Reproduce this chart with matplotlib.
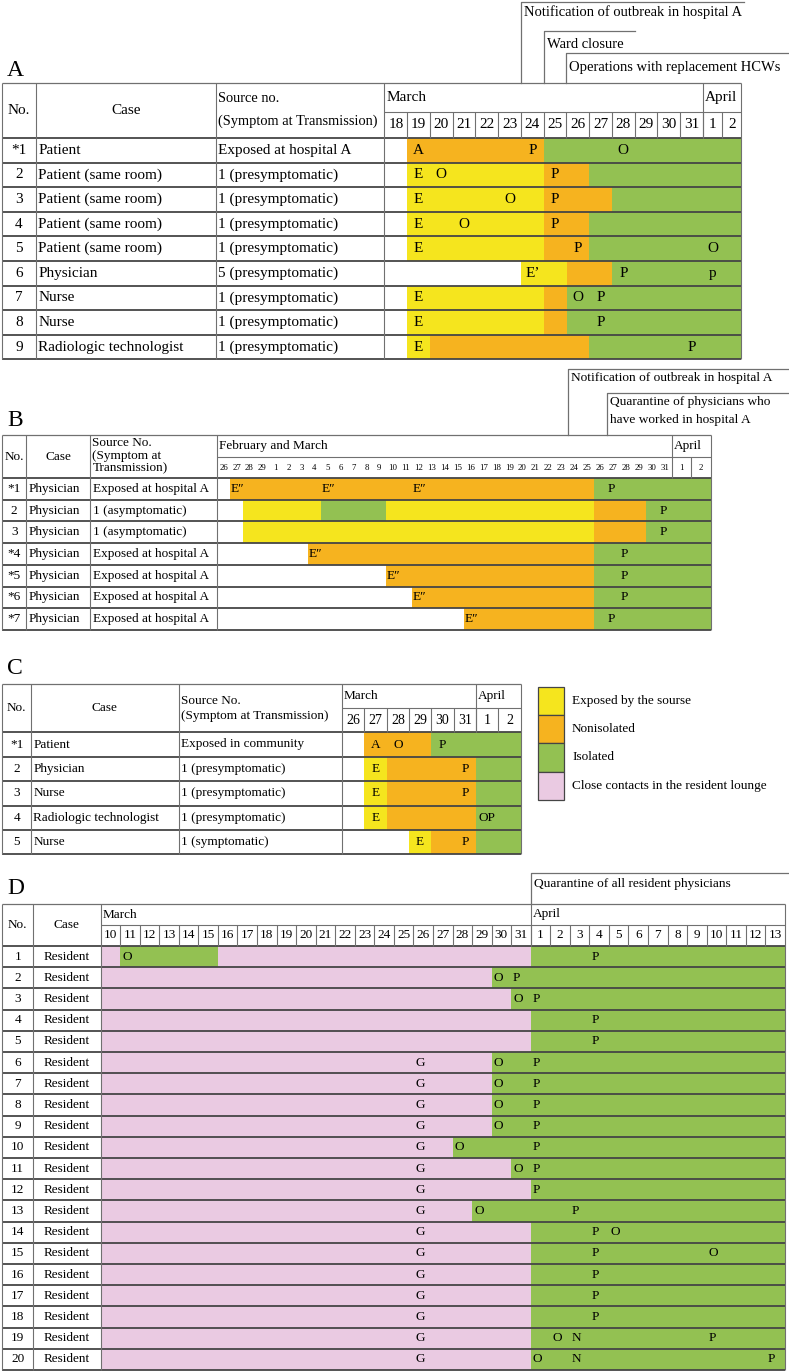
import numpy as np
import matplotlib.pyplot as plt

plt.rcParams['font.family'] = ['Liberation Serif', 'DejaVu Serif']

W, H = 789, 1372
COLORS = {'E': '#f5e51e', 'N': '#f6b31f', 'I': '#93c152', 'C': '#eacae2'}
DARK = '#454545'
THIN = '#707070'

# ---------------- panel A ----------------
a_days = ['18', '19', '20', '21', '22', '23', '24', '25', '26', '27', '28', '29', '30', '31', '1', '2']
a_no = ['*1', '2', '3', '4', '5', '6', '7', '8', '9']
a_case = ['Patient', 'Patient (same room)', 'Patient (same room)', 'Patient (same room)',
          'Patient (same room)', 'Physician', 'Nurse', 'Nurse', 'Radiologic technologist']
a_source = ['Exposed at hospital A', '1 (presymptomatic)', '1 (presymptomatic)', '1 (presymptomatic)',
            '1 (presymptomatic)', '5 (presymptomatic)', '1 (presymptomatic)', '1 (presymptomatic)',
            '1 (presymptomatic)']
# (first day index, end day index, state)  E=exposed N=nonisolated I=isolated C=lounge contact
a_bars = [
    [(1, 7, 'N'), (7, 16, 'I')],
    [(1, 7, 'E'), (7, 9, 'N'), (9, 16, 'I')],
    [(1, 7, 'E'), (7, 10, 'N'), (10, 16, 'I')],
    [(1, 7, 'E'), (7, 9, 'N'), (9, 16, 'I')],
    [(1, 7, 'E'), (7, 9, 'N'), (9, 16, 'I')],
    [(6, 8, 'E'), (8, 10, 'N'), (10, 16, 'I')],
    [(1, 7, 'E'), (7, 8, 'N'), (8, 16, 'I')],
    [(1, 7, 'E'), (7, 8, 'N'), (8, 16, 'I')],
    [(1, 2, 'E'), (2, 9, 'N'), (9, 16, 'I')],
]
a_marks = [
    [(1, 'A'), (6, 'P'), (10, 'O')],
    [(1, 'E'), (2, 'O'), (7, 'P')],
    [(1, 'E'), (5, 'O'), (7, 'P')],
    [(1, 'E'), (3, 'O'), (7, 'P')],
    [(1, 'E'), (8, 'P'), (14, 'O')],
    [(6, 'E\u2019'), (10, 'P'), (14, 'p')],
    [(1, 'E'), (8, 'O'), (9, 'P')],
    [(1, 'E'), (9, 'P')],
    [(1, 'E'), (13, 'P')],
]

# ---------------- panel B ----------------
b_days = ['26', '27', '28', '29'] + [str(d) for d in range(1, 32)] + ['1', '2']
b_no = ['*1', '2', '3', '*4', '*5', '*6', '*7']
b_case = ['Physician'] * 7
b_source = ['Exposed at hospital A', '1 (asymptomatic)', '1 (asymptomatic)', 'Exposed at hospital A',
            'Exposed at hospital A', 'Exposed at hospital A', 'Exposed at hospital A']
b_bars = [
    [(1, 29, 'N'), (29, 37, 'I')],
    [(2, 8, 'E'), (8, 13, 'I'), (13, 29, 'E'), (29, 33, 'N'), (33, 37, 'I')],
    [(2, 29, 'E'), (29, 33, 'N'), (33, 37, 'I')],
    [(7, 29, 'N'), (29, 37, 'I')],
    [(13, 29, 'N'), (29, 37, 'I')],
    [(15, 29, 'N'), (29, 37, 'I')],
    [(19, 29, 'N'), (29, 37, 'I')],
]
EE = 'E\u2033'
b_marks = [
    [(1, EE), (8, EE), (15, EE), (30, 'P')],
    [(34, 'P')],
    [(34, 'P')],
    [(7, EE), (31, 'P')],
    [(13, EE), (31, 'P')],
    [(15, EE), (31, 'P')],
    [(19, EE), (30, 'P')],
]

# ---------------- panel C ----------------
c_days = ['26', '27', '28', '29', '30', '31', '1', '2']
c_no = ['*1', '2', '3', '4', '5']
c_case = ['Patient', 'Physician', 'Nurse', 'Radiologic technologist', 'Nurse']
c_source = ['Exposed in community', '1 (presymptomatic)', '1 (presymptomatic)',
            '1 (presymptomatic)', '1 (symptomatic)']
c_bars = [
    [(1, 4, 'N'), (4, 8, 'I')],
    [(1, 2, 'E'), (2, 6, 'N'), (6, 8, 'I')],
    [(1, 2, 'E'), (2, 6, 'N'), (6, 8, 'I')],
    [(1, 2, 'E'), (2, 6, 'N'), (6, 8, 'I')],
    [(3, 4, 'E'), (4, 6, 'N'), (6, 8, 'I')],
]
c_marks = [
    [(1, 'A'), (2, 'O'), (4, 'P')],
    [(1, 'E'), (5, 'P')],
    [(1, 'E'), (5, 'P')],
    [(1, 'E'), (6, 'OP')],
    [(3, 'E'), (5, 'P')],
]
legend_labels = ['Exposed by the sourse', 'Nonisolated', 'Isolated', 'Close contacts in the resident lounge']
legend_keys = ['E', 'N', 'I', 'C']

# ---------------- panel D ----------------
d_days = [str(d) for d in range(10, 32)] + [str(d) for d in range(1, 14)]
d_no = [str(i) for i in range(1, 21)]
d_case = ['Resident'] * 20
d_bars = [
    [(0, 1, 'C'), (1, 6, 'I'), (6, 22, 'C'), (22, 35, 'I')],
    [(0, 20, 'C'), (20, 35, 'I')],
    [(0, 21, 'C'), (21, 35, 'I')],
    [(0, 22, 'C'), (22, 35, 'I')],
    [(0, 22, 'C'), (22, 35, 'I')],
    [(0, 20, 'C'), (20, 35, 'I')],
    [(0, 20, 'C'), (20, 35, 'I')],
    [(0, 20, 'C'), (20, 35, 'I')],
    [(0, 20, 'C'), (20, 35, 'I')],
    [(0, 18, 'C'), (18, 35, 'I')],
    [(0, 21, 'C'), (21, 35, 'I')],
    [(0, 22, 'C'), (22, 35, 'I')],
    [(0, 19, 'C'), (19, 35, 'I')],
    [(0, 22, 'C'), (22, 35, 'I')],
    [(0, 22, 'C'), (22, 35, 'I')],
    [(0, 22, 'C'), (22, 35, 'I')],
    [(0, 22, 'C'), (22, 35, 'I')],
    [(0, 22, 'C'), (22, 35, 'I')],
    [(0, 22, 'C'), (22, 35, 'I')],
    [(0, 22, 'C'), (22, 35, 'I')],
]
d_marks = [
    [(1, 'O'), (25, 'P')],
    [(20, 'O'), (21, 'P')],
    [(21, 'O'), (22, 'P')],
    [(25, 'P')],
    [(25, 'P')],
    [(16, 'G'), (20, 'O'), (22, 'P')],
    [(16, 'G'), (20, 'O'), (22, 'P')],
    [(16, 'G'), (20, 'O'), (22, 'P')],
    [(16, 'G'), (20, 'O'), (22, 'P')],
    [(16, 'G'), (18, 'O'), (22, 'P')],
    [(16, 'G'), (21, 'O'), (22, 'P')],
    [(16, 'G'), (22, 'P')],
    [(16, 'G'), (19, 'O'), (24, 'P')],
    [(16, 'G'), (25, 'P'), (26, 'O')],
    [(16, 'G'), (25, 'P'), (31, 'O')],
    [(16, 'G'), (25, 'P')],
    [(16, 'G'), (25, 'P')],
    [(16, 'G'), (25, 'P')],
    [(16, 'G'), (23, 'O'), (24, 'N'), (31, 'P')],
    [(16, 'G'), (22, 'O'), (24, 'N'), (34, 'P')],
]

fig = plt.figure(figsize=(W / 100, H / 100), dpi=100)
fig.patch.set_facecolor('white')
cv = fig.add_axes([0, 0, 1, 1])
cv.set_xlim(0, W)
cv.set_ylim(H, 0)
cv.axis('off')
cv.set_zorder(5)


def hline(x0, x1, y, color=DARK, lw=1.3):
    cv.plot([x0, x1], [y, y], color=color, lw=lw, solid_capstyle='butt')


def vline(x, y0, y1, color=THIN, lw=0.8):
    cv.plot([x, x], [y0, y1], color=color, lw=lw, solid_capstyle='butt')


def draw_panel(p):
    cols, widths = p['cols'], p['widths']
    top, h1, h2, rowh = p['top'], p['h1'], p['h2'], p['rowh']
    fs, dfs = p['fs'], p['day_fs']
    bars, marks = p['bars'], p['marks']
    nrows, ncols = len(bars), len(widths)
    x0 = cols[-1]
    edges = np.concatenate([[0.0], np.cumsum(widths)])
    idx = np.arange(ncols + 1, dtype=float)

    def fwd(v):
        return np.interp(v, idx, edges)

    def inv(v):
        return np.interp(v, edges, idx)

    def cx(i):
        return x0 + fwd(i)

    x1 = x0 + edges[-1]
    y0 = top + h1 + h2
    y1 = y0 + nrows * rowh

    # coloured timeline cells
    ax = fig.add_axes([x0 / W, 1 - y1 / H, (x1 - x0) / W, (y1 - y0) / H])
    ax.set_xscale('function', functions=(fwd, inv))
    for r, segs in enumerate(bars):
        for s, e, k in segs:
            ax.barh(r + 0.5, e - s, left=s, height=1, color=COLORS[k], lw=0)
    for r, ms in enumerate(marks):
        for i, t in ms:
            if p['align'] == 'center':
                ax.text(i + 0.5, r + 0.5, t, ha='center', va='center', fontsize=fs)
            else:
                ax.text(i + p['pad'], r + 0.5, t, ha='left', va='center', fontsize=fs)
    ax.set_xlim(0, ncols)
    ax.set_ylim(nrows, 0)
    ax.axis('off')

    # panel letter
    cv.text(7, p['label_y'], p['label'], ha='left', va='center', fontsize=17)

    # header
    hy = top + (h1 + h2) / 2
    cv.text((cols[0] + cols[1]) / 2, hy, 'No.', ha='center', va='center', fontsize=fs)
    cv.text((cols[1] + cols[2]) / 2, hy, 'Case', ha='center', va='center', fontsize=fs)
    for t, yy in zip(p['src_head'], p['src_head_y']):
        cv.text(cols[2] + 2, yy, t, ha='left', va='center', fontsize=p['head_fs'])
    for m, i in p['months']:
        cv.text(cx(i) + 2, top + h1 / 2, m, ha='left', va='center', fontsize=fs)
    for i, d in enumerate(p['days']):
        cv.text(cx(i + 0.5), top + h1 + h2 / 2, d, ha='center', va='center', fontsize=dfs)

    # body text
    for r in range(nrows):
        yc = y0 + (r + 0.5) * rowh
        cv.text((cols[0] + cols[1]) / 2, yc, p['no'][r], ha='center', va='center', fontsize=fs)
        if p['case_align'] == 'center':
            cv.text((cols[1] + cols[2]) / 2, yc, p['case'][r], ha='center', va='center', fontsize=fs)
        else:
            cv.text(cols[1] + 2.5, yc, p['case'][r], ha='left', va='center', fontsize=fs)
        if p['source'] is not None:
            cv.text(cols[2] + 2.5, yc, p['source'][r], ha='left', va='center', fontsize=fs)

    # grid lines
    hline(cols[0], x1, top, THIN, 0.9)
    hline(x0, x1, top + h1, THIN, 0.8)
    for k in range(nrows + 1):
        hline(cols[0], x1, y0 + k * rowh)
    for xc in cols:
        vline(xc, top, y1)
    vline(x1, top, y1)
    for _, i in p['months'][1:]:
        vline(cx(i), top, y0)
    for i in p['seps']:
        vline(cx(i), top + h1, y0)

    # call-outs above the table
    for i, ly, tys, lines, xe in p['callouts']:
        xv = cx(i)
        cv.plot([xv, xv, xe], [top, ly, ly], color=THIN, lw=0.9)
        for t, ty in zip(lines, tys):
            cv.text(xv + 3, ty, t, ha='left', va='center', fontsize=p['call_fs'])


panels = [
    dict(label='A', label_y=70, cols=[2, 36, 216, 384.5], widths=[22.75] * 14 + [19.25] * 2,
         top=83, h1=29, h2=26, rowh=24.6, fs=11, day_fs=11, call_fs=10.5, head_fs=10.4,
         bars=a_bars, marks=a_marks, align='center', pad=0, days=a_days,
         no=a_no, case=a_case, source=a_source, case_align='left',
         src_head=['Source no.', '(Symptom at Transmission)'], src_head_y=[98, 121],
         months=[('March', 0), ('April', 14)], seps=list(range(1, 16)),
         callouts=[(6, 2, [12], ['Notification of outbreak in hospital A'], 744),
                   (7, 31, [44], ['Ward closure'], 635),
                   (8, 53, [67], ['Operations with replacement HCWs'], 789)]),
    dict(label='B', label_y=421, cols=[2, 26.5, 90.5, 217], widths=[12.99] * 35 + [19.75] * 2,
         top=435, h1=22, h2=21, rowh=21.7, fs=9.5, day_fs=6.3, call_fs=9.6, head_fs=9.5,
         bars=b_bars, marks=b_marks, align='left', pad=0.08, days=b_days,
         no=b_no, case=b_case, source=b_source, case_align='left',
         src_head=['Source No.', '(Symptom at', 'Transmission)'], src_head_y=[443, 456, 468],
         months=[('February and March', 0), ('April', 35)], seps=[36],
         callouts=[(27, 369, [378], ['Notification of outbreak in hospital A'], 789),
                   (30, 393, [402.5, 419.5], ['Quarantine of physicians who',
                                              'have worked in hospital A'], 789)]),
    dict(label='C', label_y=669, cols=[2.5, 31, 178.6, 342], widths=[22.33] * 8,
         top=684, h1=24.3, h2=24, rowh=24.4, fs=9.5, day_fs=10, call_fs=9.5, head_fs=9.5,
         bars=c_bars, marks=c_marks, align='center', pad=0, days=c_days,
         no=c_no, case=c_case, source=c_source, case_align='left',
         src_head=['Source No.', '(Symptom at Transmission)'], src_head_y=[701.5, 715.5],
         months=[('March', 0), ('April', 6)], seps=list(range(1, 8)), callouts=[]),
    dict(label='D', label_y=889, cols=[2.5, 33, 100.6], widths=[19.55] * 35,
         top=904, h1=21, h2=21, rowh=21.2, fs=9.5, day_fs=9.5, call_fs=9.6, head_fs=9.5,
         bars=d_bars, marks=d_marks, align='left', pad=0.1, days=d_days,
         no=d_no, case=d_case, source=None, case_align='center',
         src_head=[], src_head_y=[],
         months=[('March', 0), ('April', 22)], seps=list(range(1, 35)),
         callouts=[(22, 873, [884.5], ['Quarantine of all resident physicians'], 789)]),
]

for p in panels:
    draw_panel(p)

# legend next to panel C
box_top, box_h = 686.7, 28.3
for j, (lab, k) in enumerate(zip(legend_labels, legend_keys)):
    yb = box_top + j * box_h
    cv.add_patch(plt.Rectangle((538, yb), 26.4, box_h, facecolor=COLORS[k],
                               edgecolor=DARK, lw=0.9))
    cv.text(572, yb + box_h / 2, lab, ha='left', va='center', fontsize=9.5)

fig.savefig('out.png', dpi=100)
